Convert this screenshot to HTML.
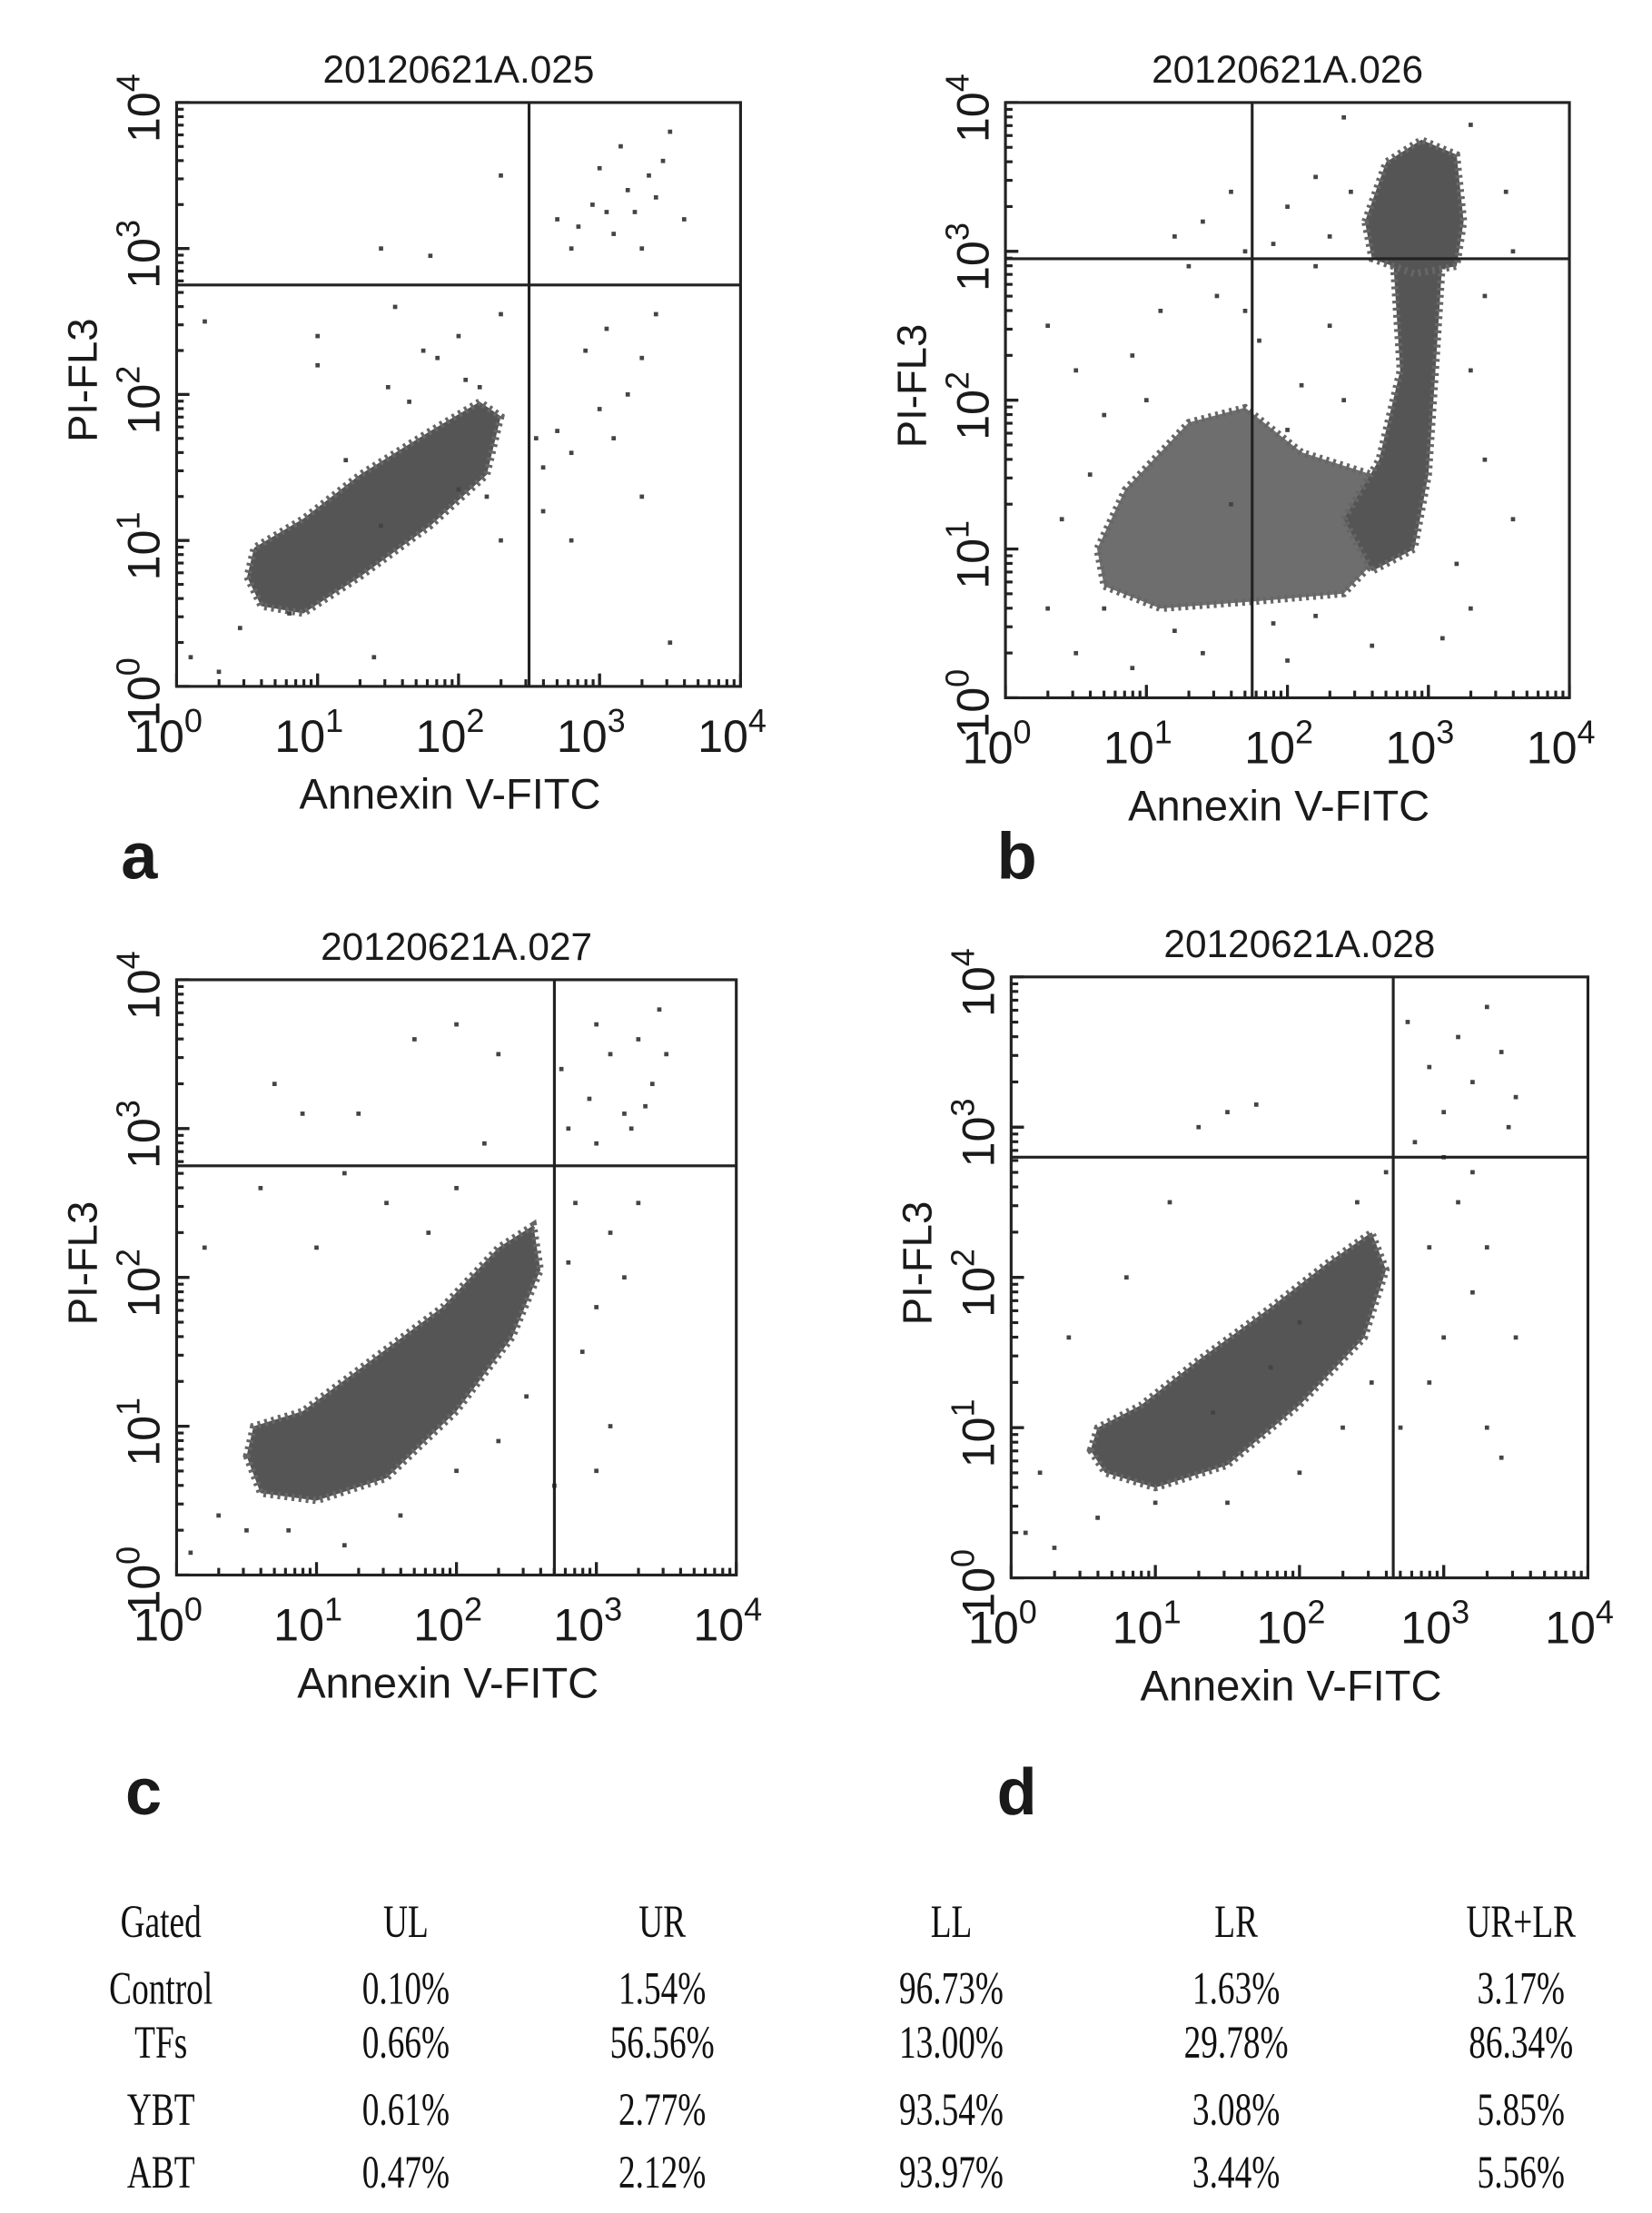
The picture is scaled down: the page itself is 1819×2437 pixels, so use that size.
<!DOCTYPE html>
<html><head><meta charset="utf-8"><style>
html,body{margin:0;padding:0;background:#fff}
svg{display:block}
text{font-family:"Liberation Sans",Arial,sans-serif;fill:#1a1a1a}
.tb{font-family:"Liberation Serif","Times New Roman",serif;fill:#111}
</style></head><body>
<svg id="fig" width="1819" height="2437" viewBox="0 0 1160 1554" preserveAspectRatio="none" xmlns="http://www.w3.org/2000/svg">
<rect width="1160" height="1554" fill="#fff"/>
</svg>
<script>
// ---------- data ----------
const panelIds=['a','b','c','d'];
const panelTitles=['20120621A.025','20120621A.026','20120621A.027','20120621A.028'];
// quadrant gate positions in log10 units [x, y]
const gateX=[2.5,1.75,2.7,2.65];
const gateY=[2.75,2.95,2.75,2.8];
const tickLabels=['0','1','2','3','4'];
// dense population outlines (log10 x, log10 y)
const blobA=[[0.5,0.75],[0.6,0.55],[0.9,0.5],[1.3,0.75],[1.8,1.1],[2.2,1.45],[2.3,1.85],[2.15,1.95],[1.8,1.75],[1.3,1.45],[0.9,1.15],[0.55,0.95]];
const blobB1=[[2.55,3.2],[2.7,3.6],[2.95,3.75],[3.2,3.65],[3.25,3.2],[3.2,2.9],[2.9,2.85],[2.6,2.95]];
const blobB2=[[2.75,2.95],[3.1,2.95],[3.05,2.2],[3.0,1.5],[2.9,1.0],[2.6,0.85],[2.4,1.2],[2.65,1.6],[2.8,2.2]];
const blobB3=[[0.7,0.75],[1.1,0.6],[1.8,0.65],[2.4,0.7],[2.7,1.0],[2.6,1.5],[2.1,1.65],[1.7,1.95],[1.3,1.85],[0.85,1.4],[0.65,1.0]];
const blobC=[[0.5,0.8],[0.6,0.55],[1.0,0.5],[1.5,0.65],[2.0,1.1],[2.4,1.6],[2.6,2.05],[2.55,2.35],[2.3,2.2],[1.9,1.8],[1.4,1.45],[0.9,1.1],[0.55,1.0]];
const blobD=[[0.55,0.85],[0.65,0.7],[1.0,0.6],[1.5,0.75],[2.0,1.15],[2.45,1.6],[2.6,2.05],[2.5,2.3],[2.2,2.1],[1.8,1.8],[1.3,1.45],[0.9,1.15],[0.6,1.0]];
// sparse events (log10 x, log10 y)
const dotsA=[[2.3,3.5],[1.8,2.95],[1.45,3.0],[1.55,2.6],[1.0,2.4],[1.0,2.2],[0.2,2.5],[1.5,2.05],[1.75,2.3],[1.85,2.25],[2.15,2.05],[2.0,2.4],[2.3,2.55],[2.05,2.1],[1.65,1.95],[1.2,1.55],[1.45,1.1],[0.8,0.5],[0.45,0.4],[0.1,0.2],[0.3,0.1],[1.4,0.2],[2.3,1.0],[2.6,1.2],[3.3,1.3],[2.8,1.0],[3.5,0.3],[2.6,1.5],[2.8,1.6],[3.0,1.9],[3.1,1.7],[3.2,2.0],[3.3,2.25],[2.9,2.3],[3.4,2.55],[3.05,2.45],[2.7,1.75],[2.55,1.7],[2.2,1.3],[2.0,1.35],[2.8,3.0],[2.95,3.3],[3.1,3.1],[3.2,3.4],[3.35,3.5],[3.45,3.6],[3.0,3.55],[3.15,3.7],[3.6,3.2],[3.3,3.0],[2.7,3.2],[3.5,3.8],[3.05,3.25],[2.85,3.15],[3.25,3.25],[3.4,3.35]];
const dotsB=[[0.3,2.5],[0.5,2.2],[0.7,1.9],[0.9,2.3],[1.1,2.6],[1.3,2.9],[1.4,3.2],[1.6,3.4],[1.2,3.1],[1.7,3.0],[2.0,3.3],[2.2,3.5],[1.9,3.05],[1.5,2.7],[1.0,2.0],[0.6,1.5],[0.4,1.2],[0.3,0.6],[0.5,0.3],[0.9,0.2],[1.4,0.3],[2.0,0.25],[2.6,0.35],[3.3,0.6],[3.6,1.2],[3.4,1.6],[3.3,2.2],[3.4,2.7],[3.6,3.0],[3.55,3.4],[3.3,3.85],[2.4,3.9],[2.3,2.5],[2.1,2.1],[2.0,1.8],[1.8,2.4],[2.4,2.0],[1.9,0.5],[1.2,0.45],[0.7,0.6],[3.2,0.9],[3.1,0.4],[2.2,0.55],[1.6,1.3],[2.3,3.1],[2.45,3.4],[2.2,2.9],[1.7,2.6]];
const dotsC=[[0.7,3.3],[0.9,3.1],[1.3,3.1],[1.7,3.6],[2.0,3.7],[2.3,3.5],[1.2,2.7],[0.6,2.6],[0.2,2.2],[1.0,2.2],[1.5,2.5],[1.8,2.3],[2.0,2.6],[2.2,2.9],[0.3,0.4],[0.5,0.3],[0.1,0.15],[0.8,0.3],[1.2,0.2],[1.6,0.4],[2.0,0.7],[2.5,1.2],[2.3,0.9],[2.7,0.6],[3.0,0.7],[3.1,1.0],[2.9,1.5],[3.0,1.8],[3.2,2.0],[3.3,2.5],[3.1,2.3],[2.8,2.1],[2.85,2.5],[3.0,2.9],[3.2,3.1],[3.4,3.3],[3.3,3.6],[3.45,3.8],[3.1,3.5],[2.95,3.2],[2.8,3.0],[3.25,3.0],[3.5,3.5],[2.75,3.4],[3.0,3.7],[3.35,3.15]];
const dotsD=[[1.3,3.0],[1.5,3.1],[1.7,3.15],[1.1,2.5],[0.8,2.0],[0.4,1.6],[0.2,0.7],[0.1,0.3],[0.3,0.2],[0.6,0.4],[1.0,0.5],[1.5,0.5],[2.0,0.7],[2.3,1.0],[2.5,1.3],[2.7,1.0],[2.9,1.3],[3.0,1.6],[3.2,1.9],[3.3,2.2],[3.1,2.5],[2.9,2.2],[3.3,1.0],[3.5,1.6],[3.4,0.8],[2.4,2.5],[2.6,2.7],[2.8,2.9],[3.0,3.1],[3.2,3.3],[3.4,3.5],[3.3,3.8],[3.1,3.6],[2.9,3.4],[3.5,3.2],[3.0,2.8],[3.2,2.7],[2.75,3.7],[3.45,3.0],[2.0,1.7],[1.8,1.4],[1.4,1.1]];
// table
const tableHead=['Gated','UL','UR','LL','LR','UR+LR'];
const tableGroups=['Control','TFs','YBT','ABT'];
const colUL=['0.10%','0.66%','0.61%','0.47%'];
const colUR=['1.54%','56.56%','2.77%','2.12%'];
const colLL=['96.73%','13.00%','93.54%','93.97%'];
const colLR=['1.63%','29.78%','3.08%','3.44%'];
const colSum=['3.17%','86.34%','5.85%','5.56%'];

// ---------- layout ----------
const boxes=[[124,72,520,482],[706,72,1102,490],[124,688,517,1106],[710,686,1115,1108]];
const letterPos=[[85,605],[700,605],[88,1262],[700,1262]];
const NS='http://www.w3.org/2000/svg';
const svg=document.getElementById('fig');
function mk(tag,attrs,parent){const e=document.createElementNS(NS,tag);for(const k in attrs)e.setAttribute(k,attrs[k]);(parent||svg).appendChild(e);return e;}
const blobs=[[blobA],[blobB3,blobB2,blobB1],[blobC],[blobD]];
const dots=[dotsA,dotsB,dotsC,dotsD];

boxes.forEach((b,i)=>{
  const [x0,y0,x1,y1]=b;
  const sx=l=>x0+l*(x1-x0)/4, sy=l=>y1-l*(y1-y0)/4;
  const g=mk('g',{});
  
  
  const t=mk('text',{x:(x0+x1)/2,y:y0-14,'text-anchor':'middle','font-size':27},g);
  t.textContent=panelTitles[i];
  
  
  blobs[i].forEach((pg,j)=>{
    const p=mk('polygon',{points:pg.map(q=>sx(q[0])+','+sy(q[1])).join(' '),fill:'#555',stroke:'#666','stroke-width':5,'stroke-dasharray':'2 3','fill-opacity':(i==1&&j==0)?0.85:1},g);
    
    
  });
  dots[i].forEach(q=>{
    const r=mk('rect',{x:sx(q[0])-1.5,y:sy(q[1])-1.5,width:3,height:3,fill:'#444'},g);
    
    
  });
  const fr=mk('rect',{x:x0,y:y0,width:x1-x0,height:y1-y0,fill:'none',stroke:'#222','stroke-width':2},g);
  
  
  const gv=mk('line',{x1:sx(gateX[i]),x2:sx(gateX[i]),y1:y0,y2:y1,stroke:'#222','stroke-width':2},g);
  
  
  const gh=mk('line',{x1:x0,x2:x1,y1:sy(gateY[i]),y2:sy(gateY[i]),stroke:'#222','stroke-width':2},g);
  
  
  for(let d=0;d<4;d++)for(let m=1;m<=10;m++){
    const l=d+Math.log10(m); const len=(m==1||m==10)?9:5;
    mk('line',{x1:sx(l),x2:sx(l),y1:y1,y2:y1-len,stroke:'#222','stroke-width':2},g);
    mk('line',{x1:x0,x2:x0+len,y1:sy(l),y2:sy(l),stroke:'#222','stroke-width':2},g);
  }
  tickLabels.forEach((lab,k)=>{
    const tx=mk('text',{x:sx(k)-6,y:y1+46,'text-anchor':'middle','font-size':32},g);
    tx.innerHTML='10<tspan dy="-14" font-size="23">'+lab+'</tspan>';
    
    
    const ty=mk('text',{x:0,y:0,'text-anchor':'middle','font-size':32,transform:'translate('+(x0-12)+','+(sy(k)+4)+') rotate(-90)'},g);
    ty.innerHTML='10<tspan dy="-14" font-size="23">'+lab+'</tspan>';
    
    
  });
  const xt=mk('text',{x:(x0+x1)/2-6,y:y1+86,'text-anchor':'middle','font-size':30},g);
  xt.textContent='Annexin V-FITC';
  
  
  const yt=mk('text',{x:0,y:0,'text-anchor':'middle','font-size':29,transform:'translate('+(x0-56)+','+((y0+y1)/2-10)+') rotate(-90)'},g);
  yt.textContent='PI-FL3';
  
  
  const lt=mk('text',{x:letterPos[i][0],y:letterPos[i][1]+12,'font-size':46,'font-weight':'bold','fill':'#111'},g);
  lt.textContent=panelIds[i];
  
  
});

const colX=[113,285,465,668,868,1068];
const rowY=[1360,1407,1445,1492,1536];
const tg=mk('g',{});


function cell(txt,x,y,name){const e=mk('text',{class:'tb','text-anchor':'middle','font-size':28,transform:'translate('+x+','+y+') scale(0.85,1.15)'},tg);e.textContent=txt;}
tableHead.forEach((h,k)=>cell(h,colX[k],rowY[0],'table-header'));
const cols=[tableGroups,colUL,colUR,colLL,colLR,colSum];
tableGroups.forEach((gName,r)=>{cols.forEach((c,k)=>cell(c[r],colX[k],rowY[r+1],'table-cell'));});
</script>
</body></html>
